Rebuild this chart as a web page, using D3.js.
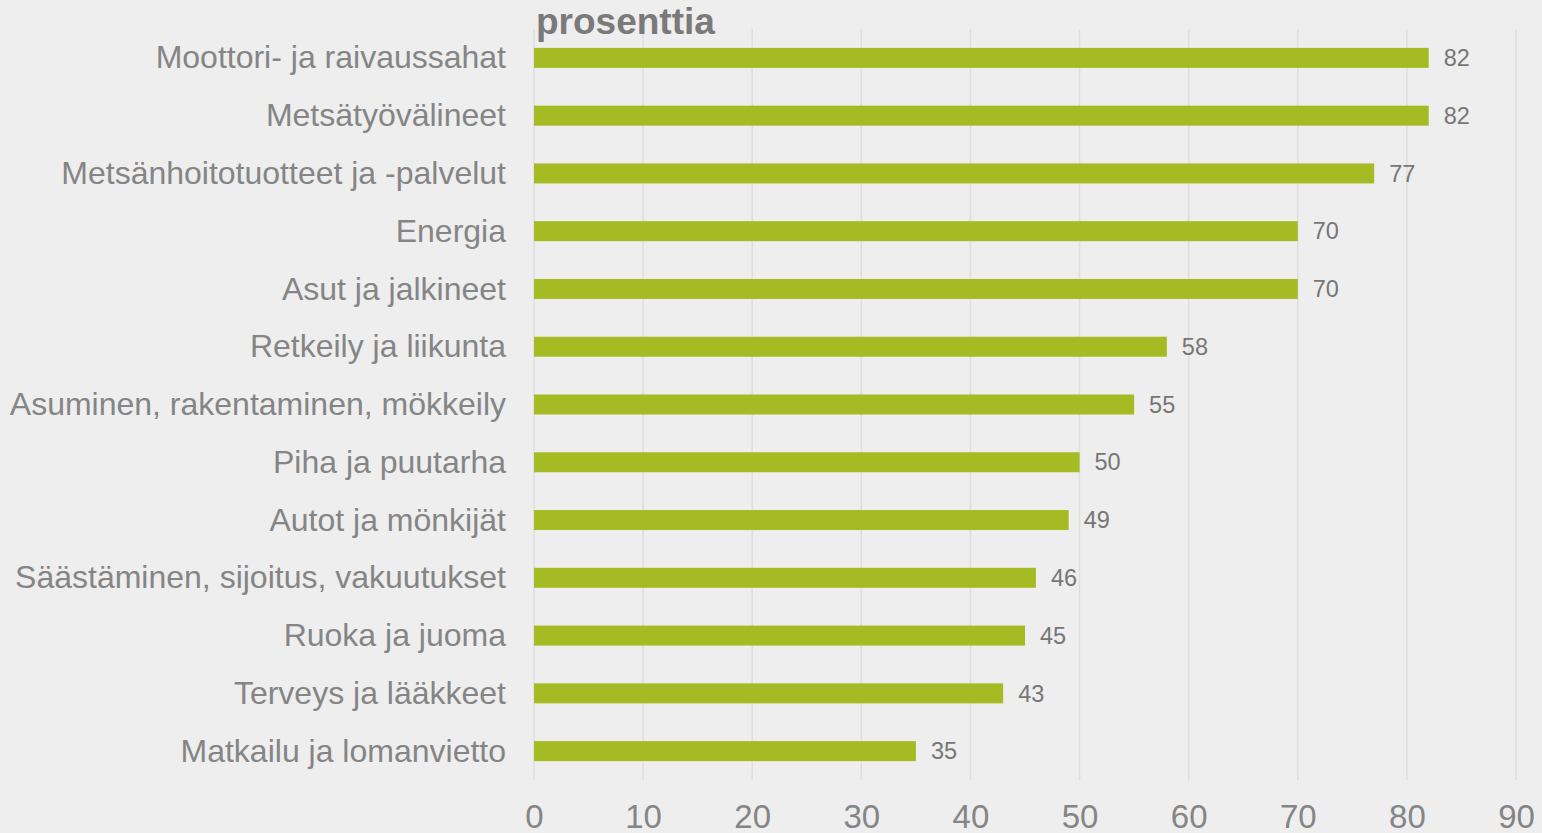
<!DOCTYPE html>
<html><head><meta charset="utf-8">
<script src="https://cdn.jsdelivr.net/npm/d3@7"></script>
<style>
html,body{margin:0;padding:0;background:#eeeeee;}
svg{display:block;}
text{font-family:"Liberation Sans",Arial,sans-serif;}
</style></head>
<body>
<script>
const categories = ["Moottori- ja raivaussahat","Metsätyövälineet","Metsänhoitotuotteet ja -palvelut","Energia","Asut ja jalkineet","Retkeily ja liikunta","Asuminen, rakentaminen, mökkeily","Piha ja puutarha","Autot ja mönkijät","Säästäminen, sijoitus, vakuutukset","Ruoka ja juoma","Terveys ja lääkkeet","Matkailu ja lomanvietto"];
const values = [82,82,77,70,70,58,55,50,49,46,45,43,35];
const ticks = [0,10,20,30,40,50,60,70,80,90];
const unitLabel = "prosenttia";

const W=1542,H=833;
const svg=d3.select("body").append("svg").attr("width",W).attr("height",H);
svg.append("rect").attr("width",W).attr("height",H).attr("fill","#eeeeee");
const x=d3.scaleLinear().domain([0,90]).range([534,1516]);
const y=d3.scaleBand().domain(categories).range([29,780]).paddingInner(0.654).paddingOuter(0.327);

svg.append("g").selectAll("line").data(ticks).join("line")
 .attr("x1",d=>x(d)).attr("x2",d=>x(d)).attr("y1",29).attr("y2",780)
 .attr("stroke","#dedede").attr("stroke-width",1.5);

svg.append("g").selectAll("rect").data(values).join("rect")
 .attr("x",x(0)).attr("y",(d,i)=>y(categories[i]))
 .attr("width",d=>x(d)-x(0)).attr("height",y.bandwidth()).attr("fill","#a4bb23");

svg.append("g").selectAll("text").data(values).join("text")
 .attr("x",d=>x(d)+15).attr("y",(d,i)=>y(categories[i])+y.bandwidth()/2)
 .attr("dy","0.35em").style("font-size","23.5px").attr("fill","#767676").text(d=>d);

const yAxis=d3.axisLeft(y).tickSize(0).tickPadding(28);
const gy=svg.append("g").attr("transform",`translate(${x(0)},0)`).call(yAxis);
gy.select(".domain").remove();
gy.selectAll("text").style("font-size","32px").attr("fill","#858585").attr("dy","0.33em");

const xAxis=d3.axisBottom(x).tickValues(ticks).tickSize(0).tickPadding(0);
const gx=svg.append("g").attr("transform",`translate(0,805)`).call(xAxis);
gx.select(".domain").remove();
gx.selectAll("text").style("font-size","33px").attr("fill","#858585").attr("dy","0.71em");

svg.append("text").attr("x",536).attr("y",34).style("font-size","37px").attr("font-weight","bold").attr("fill","#7a7a7a").text(unitLabel);
</script>
</body></html>
